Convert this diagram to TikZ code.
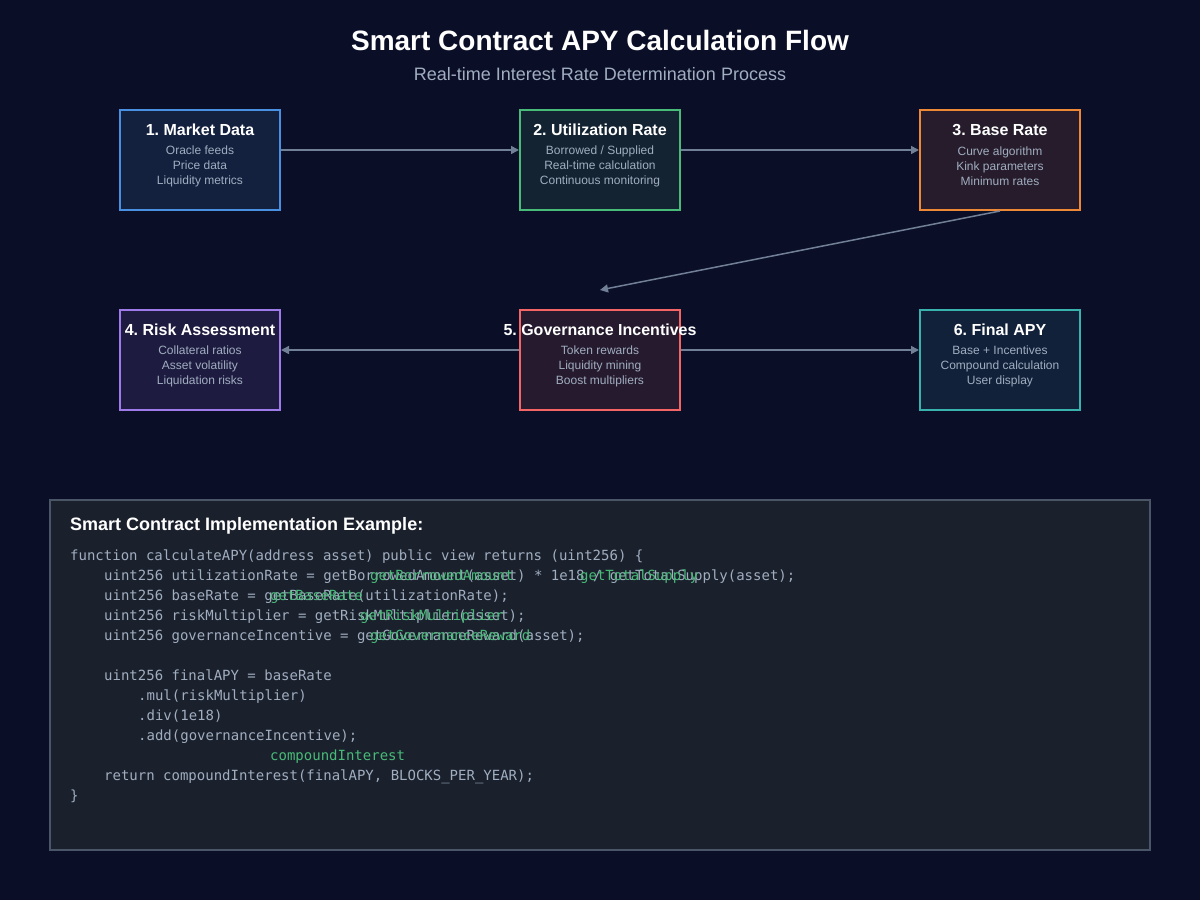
\documentclass[tikz,border=0pt]{standalone}
\usepackage{fontspec}
\setmainfont{Liberation Sans}
\setmonofont{DejaVu Sans Mono}
\usetikzlibrary{arrows.meta}
\frenchspacing
\definecolor{bgnavy}{HTML}{0A0E27}
\definecolor{txtgray}{HTML}{A0AEC0}
\definecolor{codegray}{HTML}{A0AEC0}
\definecolor{linkgray}{HTML}{718096}
\definecolor{codegreen}{HTML}{48BB78}
\definecolor{codefill}{HTML}{1A202C}
\definecolor{codeedge}{HTML}{4A5568}
\definecolor{mdEdge}{HTML}{4A90E2}\definecolor{mdFill}{HTML}{13213F}
\definecolor{urEdge}{HTML}{48BB78}\definecolor{urFill}{HTML}{132332}
\definecolor{brEdge}{HTML}{ED8936}\definecolor{brFill}{HTML}{261C2C}
\definecolor{raEdge}{HTML}{9F7AEA}\definecolor{raFill}{HTML}{1E1B40}
\definecolor{giEdge}{HTML}{F56565}\definecolor{giFill}{HTML}{261A2E}
\definecolor{faEdge}{HTML}{38B2AC}\definecolor{faFill}{HTML}{12213A}
\newcommand{\boxtitlefont}{\fontsize{16}{19}\selectfont\bfseries}
\newcommand{\boxbodyfont}{\fontsize{12}{15}\selectfont}
\newcommand{\codefont}{\ttfamily\fontsize{14}{20}\selectfont}
\tikzset{
	stagebox/.style={draw, line width=2pt, minimum width=160pt, minimum height=100pt, inner sep=0pt},
	stagetitle/.style={text=white, inner sep=0pt, font=\boxtitlefont},
	stagebody/.style={text=txtgray, align=center, inner sep=0pt, font=\boxbodyfont},
	link/.style={draw=linkgray, line width=1.5pt, -{Triangle[length=8pt,width=8pt]}},
	codeline/.style={anchor=base west, inner sep=0pt, text=codegray, font=\codefont},
	codehint/.style={codeline, text=codegreen}
}
\begin{document}
\begin{tikzpicture}[x=1pt,y=-1pt]
	%Background
	\fill[bgnavy] (0,0) rectangle (1200,900);
	\useasboundingbox (0,0) rectangle (1200,900);
	%Heading
	\node (title) [text=white, font=\fontsize{28}{32}\selectfont\bfseries] at (600,40) {Smart Contract APY Calculation Flow};
	\node (subtitle) [text=txtgray, font=\fontsize{18}{22}\selectfont] at (600,74) {Real-time Interest Rate Determination Process};
	%Stage boxes
	\node (md) [stagebox, draw=mdEdge, fill=mdFill] at (200,160) {};
	\node (ur) [stagebox, draw=urEdge, fill=urFill] at (600,160) {};
	\node (br) [stagebox, draw=brEdge, fill=brFill] at (1000,160) {};
	\node (ra) [stagebox, draw=raEdge, fill=raFill] at (200,360) {};
	\node (gi) [stagebox, draw=giEdge, fill=giFill] at (600,360) {};
	\node (fa) [stagebox, draw=faEdge, fill=faFill] at (1000,360) {};
	%Stage texts
	\node (mdT) [stagetitle] at (200,130) {1. Market Data};
	\node (mdB) [stagebody] at (200,166) {Oracle feeds\\Price data\\Liquidity metrics};
	\node (urT) [stagetitle] at (600,130) {2. Utilization Rate};
	\node (urB) [stagebody] at (600,166) {Borrowed / Supplied\\Real-time calculation\\Continuous monitoring};
	\node (brT) [stagetitle] at (1000,130) {3. Base Rate};
	\node (brB) [stagebody] at (1000,166) {Curve algorithm\\Kink parameters\\Minimum rates};
	\node (raT) [stagetitle] at (200,330) {4. Risk Assessment};
	\node (raB) [stagebody] at (200,366) {Collateral ratios\\Asset volatility\\Liquidation risks};
	\node (giT) [stagetitle] at (600,330) {5. Governance Incentives};
	\node (giB) [stagebody] at (600,366) {Token rewards\\Liquidity mining\\Boost multipliers};
	\node (faT) [stagetitle] at (1000,330) {6. Final APY};
	\node (faB) [stagebody] at (1000,366) {Base + Incentives\\Compound calculation\\User display};
	%Links between the stages
	\coordinate (brEnd) at (600,290);
	\draw[link] ([yshift=10pt]md.east) -- ([yshift=10pt]ur.west);
	\draw[link] ([yshift=10pt]ur.east) -- ([yshift=10pt]br.west);
	\draw[link] (br.south) -- (brEnd);
	\draw[link] ([yshift=10pt]gi.west) -- ([yshift=10pt]ra.east);
	\draw[link] ([yshift=10pt]gi.east) -- ([yshift=10pt]fa.west);
	%Code panel
	\node (code) [draw=codeedge, fill=codefill, line width=1.5pt, minimum width=1100pt, minimum height=350pt, inner sep=0pt] at (600,675) {};
	\node (codeT) [anchor=base west, inner sep=0pt, text=white, font=\fontsize{18}{22}\selectfont\bfseries] at (70,530) {Smart Contract Implementation Example:};
	%Code lines
	\node (c1) [codeline] at (70,560) {function calculateAPY(address asset) public view returns (uint256) \{};
	\node (c2) [codeline] at (104,580) {uint256 utilizationRate = getBorrowedAmount(asset) * 1e18 / getTotalSupply(asset);};
	\node (c3) [codeline] at (104,600) {uint256 baseRate = getBaseRate(utilizationRate);};
	\node (c4) [codeline] at (104,620) {uint256 riskMultiplier = getRiskMultiplier(asset);};
	\node (c5) [codeline] at (104,640) {uint256 governanceIncentive = getGovernanceReward(asset);};
	\node (c6) [codeline] at (104,680) {uint256 finalAPY = baseRate};
	\node (c7) [codeline] at (138,700) {.mul(riskMultiplier)};
	\node (c8) [codeline] at (138,720) {.div(1e18)};
	\node (c9) [codeline] at (138,740) {.add(governanceIncentive);};
	\node (c10) [codeline] at (104,780) {return compoundInterest(finalAPY, BLOCKS\_PER\_YEAR);};
	\node (c11) [codeline] at (70,800) {\}};
	%Green hints
	\node (h1) [codehint] at (370,580) {getBorrowedAmount};
	\node (h2) [codehint] at (580,580) {getTotalSupply};
	\node (h3) [codehint] at (270,600) {getBaseRate};
	\node (h4) [codehint] at (360,620) {getRiskMultiplier};
	\node (h5) [codehint] at (370,640) {getGovernanceReward};
	\node (h6) [codehint] at (270,760) {compoundInterest};
\end{tikzpicture}
\end{document}
